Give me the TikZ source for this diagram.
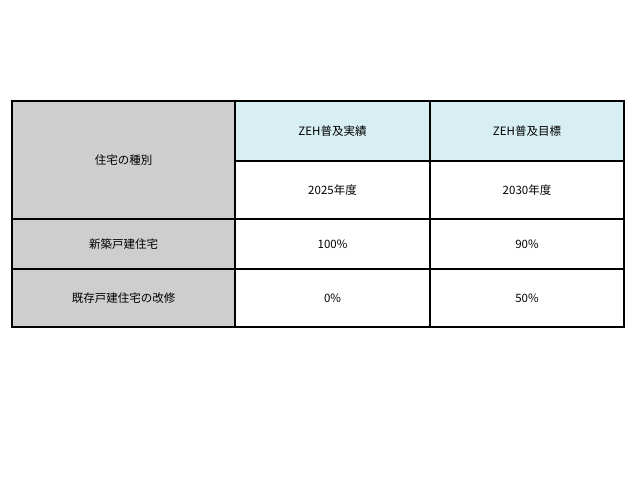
\documentclass[tikz,border=0pt]{standalone}
\usepackage{fontspec}
\setmainfont{Liberation Sans}
\newfontfamily\jpfont{Noto Sans CJK JP}
\usetikzlibrary{positioning}
\tikzstyle{cell}=[draw=black, line width=1.5pt, shape=rectangle, inner sep=0pt, outer sep=0pt, font=\fontsize{11.5}{13}\selectfont\jpfont]
\definecolor{headcyan}{RGB}{215,239,242}
\definecolor{headgray}{RGB}{206,206,206}
\begin{document}
\begin{tikzpicture}[x=1pt, y=1pt]
\useasboundingbox (0,0) rectangle (640,480);
% left column
\node [cell, fill=headgray, minimum width=223pt, minimum height=118pt, anchor=north west] (kind) at (12,379) {住宅の種別};
\node [cell, fill=headgray, minimum width=223pt, minimum height=50pt, anchor=north] (new) at (kind.south) {新築戸建住宅};
\node [cell, fill=headgray, minimum width=223pt, minimum height=58pt, anchor=north] (reno) at (new.south) {既存戸建住宅の改修};
% header
\node [cell, fill=headcyan, minimum width=195pt, minimum height=60pt, anchor=north west] (actual) at (kind.north east) {ZEH普及実績};
\node [cell, fill=headcyan, minimum width=194pt, minimum height=60pt, anchor=north west] (target) at (actual.north east) {ZEH普及目標};
\node [cell, fill=white, minimum width=195pt, minimum height=58pt, anchor=north] (y2025) at (actual.south) {2025年度};
\node [cell, fill=white, minimum width=194pt, minimum height=58pt, anchor=north] (y2030) at (target.south) {2030年度};
% values
\node [cell, fill=white, minimum width=195pt, minimum height=50pt, anchor=north] (newact) at (y2025.south) {100\%};
\node [cell, fill=white, minimum width=194pt, minimum height=50pt, anchor=north] (newtgt) at (y2030.south) {90\%};
\node [cell, fill=white, minimum width=195pt, minimum height=58pt, anchor=north] (renoact) at (newact.south) {0\%};
\node [cell, fill=white, minimum width=194pt, minimum height=58pt, anchor=north] (renotgt) at (newtgt.south) {50\%};
\end{tikzpicture}
\end{document}
